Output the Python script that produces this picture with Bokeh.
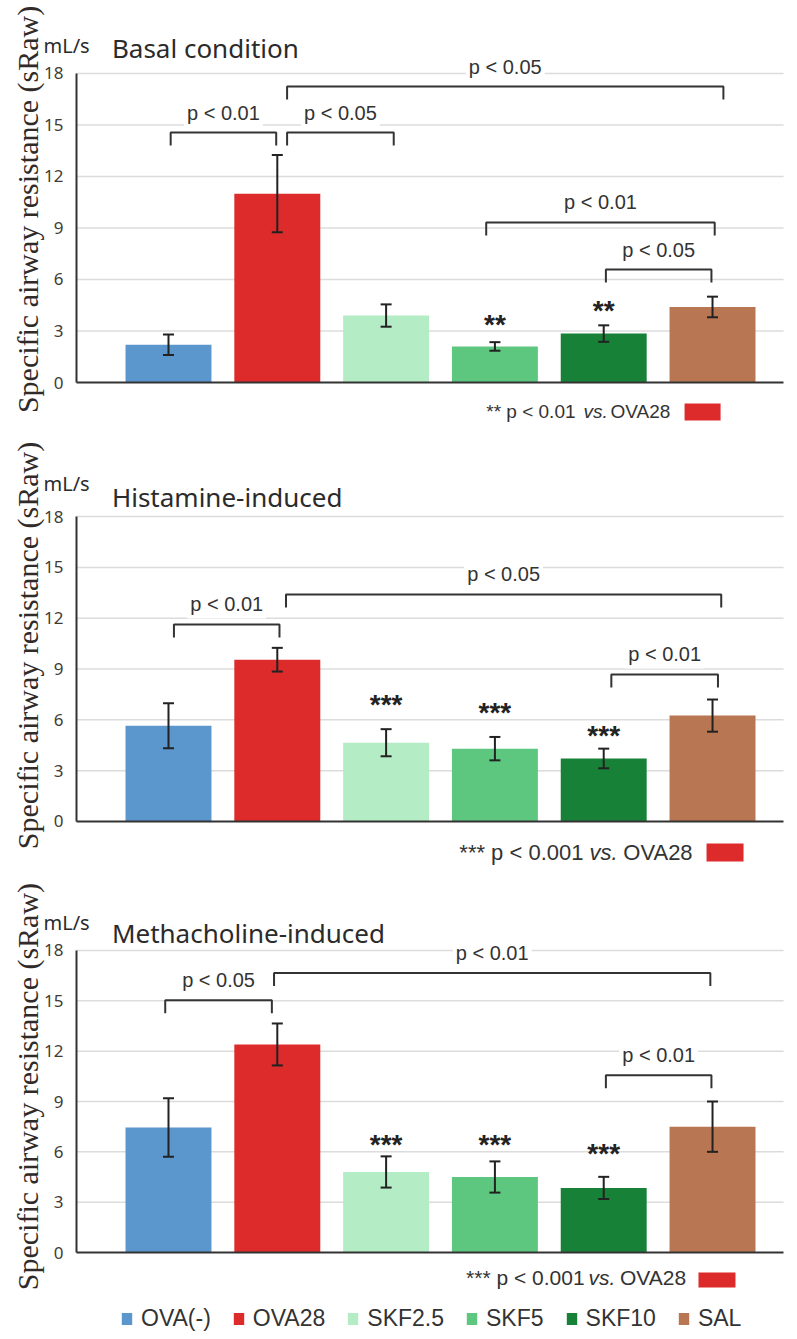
import math
from bokeh.plotting import figure
from bokeh.models import (Range1d, FixedTicker, Label, Whisker, TeeHead,
                          ColumnDataSource, Legend, LegendItem)
from bokeh.layouts import column
from bokeh.embed import file_html
from bokeh.resources import INLINE

# ---------------- data ----------------
groups = ["OVA(-)", "OVA28", "SKF2.5", "SKF5", "SKF10", "SAL"]
bar_colors = ["#5b96cc", "#dd2a2a", "#b4ecc6", "#5ec77f", "#178237", "#b87752"]
y_ticks = [0, 3, 6, 9, 12, 15, 18]

basal_mean = [2.2, 11.0, 3.9, 2.1, 2.85, 4.4]
basal_sem = [0.6, 2.25, 0.65, 0.25, 0.48, 0.6]

hist_mean = [5.65, 9.55, 4.65, 4.3, 3.72, 6.25]
hist_sem = [1.33, 0.7, 0.8, 0.69, 0.58, 0.95]

metha_mean = [7.45, 12.4, 4.8, 4.5, 3.85, 7.5]
metha_sem = [1.75, 1.25, 0.93, 0.93, 0.66, 1.5]

titles = ["Basal condition", "Histamine-induced", "Methacholine-induced"]
unit_text = "mL/s"
y_label = "Specific airway resistance (sRaw)"

# significance annotations: (left x, right x, bracket height, text)
basal_brackets = [(0.02, 0.99, 14.56, "p < 0.01"), (1.09, 2.07, 14.56, "p < 0.05"),
                  (1.09, 5.10, 17.24, "p < 0.05"), (2.92, 5.02, 9.32, "p < 0.01"),
                  (4.02, 4.99, 6.58, "p < 0.05")]
hist_brackets = [(0.05, 1.02, 11.63, "p < 0.01"), (1.08, 5.08, 13.4, "p < 0.05"),
                 (4.07, 5.05, 8.68, "p < 0.01")]
metha_brackets = [(-0.03, 0.95, 15.04, "p < 0.05"), (0.97, 4.98, 16.66, "p < 0.01"),
                  (4.02, 4.99, 10.57, "p < 0.01")]

# stars vs OVA28: (group index, height, text)
basal_stars = [(3, 3.79, "**"), (4, 4.60, "**")]
hist_stars = [(2, 7.32, "***"), (3, 6.85, "***"), (4, 5.49, "***")]
metha_stars = [(2, 6.87, "***"), (3, 6.87, "***"), (4, 6.33, "***")]

notes = ["** p < 0.01", "*** p < 0.001", "*** p < 0.001"]

TXT = "#333333"

panels = [
    dict(mean=basal_mean, sem=basal_sem, brackets=basal_brackets, stars=basal_stars,
         title=titles[0], note=notes[0], y_range=(-3.378, 22.25), height=440,
         unit_y=19.63, title_y=19.51, ylab_y=10.08,
         note_y=-1.69, note_x=(3.741, 3.814, 4.063), note_font="19px",
         box=(4.743, 5.074, -1.22, -2.21), legend=False),
    dict(mean=hist_mean, sem=hist_sem, brackets=hist_brackets, stars=hist_stars,
         title=titles[1], note=notes[1], y_range=(-3.188, 22.49), height=435,
         unit_y=19.95, title_y=19.13, ylab_y=10.39,
         note_y=-1.83, note_x=(3.814, 3.869, 4.180), note_font="22px",
         box=(4.945, 5.285, -1.30, -2.36), legend=False),
    dict(mean=metha_mean, sem=metha_sem, brackets=metha_brackets, stars=metha_stars,
         title=titles[2], note=notes[2], y_range=(-4.887, 22.47), height=459,
         unit_y=19.67, title_y=19.07, ylab_y=9.89,
         note_y=-1.49, note_x=(3.824, 3.86, 4.15), note_font="21px",
         box=(4.871, 5.211, -1.19, -2.09), legend=True),
]

FULL_X = (-1.544, 5.781)     # whole canvas width
AXIS_X = (-0.846, 5.653)     # extent of the plotting area (axes)
W = 797


def make_panel(cfg):
    y0, y1 = cfg["y_range"]
    px = cfg["height"] / (y1 - y0)
    p = figure(width=W, height=cfg["height"], x_range=Range1d(*FULL_X),
               y_range=Range1d(y0, y1), output_backend="svg", toolbar_location=None,
               min_border=0)
    p.outline_line_color = None
    p.background_fill_color = "white"
    p.xgrid.visible = False
    p.ygrid.visible = False

    xa_ = p.xaxis[0]
    xa_.fixed_location = 0
    xa_.bounds = AXIS_X
    xa_.axis_line_color = "#333333"
    xa_.axis_line_width = 2
    xa_.major_tick_line_color = None
    xa_.minor_tick_line_color = None
    xa_.major_label_text_color = None
    xa_.major_label_text_font_size = "0px"

    ax = p.yaxis[0]
    ax.fixed_location = AXIS_X[0]
    ax.ticker = FixedTicker(ticks=y_ticks)
    ax.bounds = (min(y_ticks), max(y_ticks))
    ax.axis_line_color = "#333333"
    ax.axis_line_width = 2
    ax.major_tick_line_color = None
    ax.minor_tick_line_color = None
    ax.major_tick_out = 0
    ax.major_tick_in = 0
    ax.major_label_standoff = 13
    ax.major_label_text_font = "Noto Sans"
    ax.major_label_text_font_size = "17px"
    ax.major_label_text_color = "#433b36"

    # horizontal grid lines at the axis ticks, limited to the plotting area
    gt = [t for t in y_ticks if t > 0]
    p.segment(x0=[AXIS_X[0]] * len(gt), x1=[AXIS_X[1]] * len(gt), y0=gt, y1=gt,
              line_color="#dcdcdc", line_width=1.5, level="underlay")

    xs = list(range(len(groups)))
    src = ColumnDataSource(dict(
        x=xs, group=groups, top=cfg["mean"], color=bar_colors,
        upper=[m + s for m, s in zip(cfg["mean"], cfg["sem"])],
        lower=[m - s for m, s in zip(cfg["mean"], cfg["sem"])]))
    bars = p.vbar(x="x", top="top", bottom=0, width=0.79, source=src,
                  fill_color="color", line_color=None)
    p.add_layout(Whisker(base="x", upper="upper", lower="lower", source=src,
                         level="overlay", line_color="#222222", line_width=2,
                         upper_head=TeeHead(size=11, line_color="#222222", line_width=2),
                         lower_head=TeeHead(size=11, line_color="#222222", line_width=2)))

    drop = 13 / px
    bx, by = [], []
    for xa, xb, yb, lab in cfg["brackets"]:
        bx.append([xa, xa, xb, xb])
        by.append([yb - drop, yb, yb, yb - drop])
    p.multi_line(bx, by, line_color="#333333", line_width=2)
    for xa, xb, yb, lab in cfg["brackets"]:
        p.add_layout(Label(x=(xa + xb) / 2, y=yb, y_offset=20, text=lab,
                           text_align="center", text_baseline="middle",
                           text_font="Liberation Sans", text_font_size="20px",
                           text_color=TXT, background_fill_color="white", padding=3))

    for gi, ys, st in cfg["stars"]:
        p.add_layout(Label(x=gi, y=ys, y_offset=-7, text=st, text_align="center",
                           text_baseline="middle", text_font="Liberation Sans",
                           text_font_style="bold", text_font_size="28px", text_color="#222222"))

    # titles
    p.add_layout(Label(x=-1.149, y=cfg["unit_y"], text=unit_text, text_align="left",
                       text_baseline="alphabetic", text_font="Noto Sans",
                       text_font_size="20px", text_color="#2b2b2b"))
    p.add_layout(Label(x=-0.52, y=cfg["title_y"], text=cfg["title"], text_align="left",
                       text_baseline="alphabetic", text_font="Noto Sans",
                       text_font_size="26px", text_color="#2b2b2b"))
    p.add_layout(Label(x=-1.296, y=cfg["ylab_y"], text=y_label, angle=math.pi / 2,
                       text_align="center", text_baseline="middle",
                       text_font="Liberation Serif", text_font_size="30px",
                       text_color="#302a28"))

    # significance note
    nx = cfg["note_x"]
    fs = cfg["note_font"]
    p.add_layout(Label(x=nx[0], y=cfg["note_y"], text=cfg["note"], text_align="right",
                       text_baseline="middle", text_font="Liberation Sans",
                       text_font_size=fs, text_color=TXT))
    p.add_layout(Label(x=nx[1], y=cfg["note_y"], text="vs.", text_align="left",
                       text_baseline="middle", text_font="Liberation Sans",
                       text_font_style="italic", text_font_size=fs, text_color=TXT))
    p.add_layout(Label(x=nx[2], y=cfg["note_y"], text=groups[1], text_align="left",
                       text_baseline="middle", text_font="Liberation Sans",
                       text_font_size=fs, text_color=TXT))
    b = cfg["box"]
    p.quad(left=[b[0]], right=[b[1]], top=[b[2]], bottom=[b[3]],
           fill_color=bar_colors[1], line_color=None)

    if cfg["legend"]:
        items = [LegendItem(label=g, renderers=[bars], index=i) for i, g in enumerate(groups)]
        leg = Legend(items=items, orientation="horizontal", location=(120, 2),
                     glyph_width=13, glyph_height=15, label_standoff=8, spacing=21,
                     padding=0, margin=0, label_height=24,
                     label_text_font="Liberation Sans", label_text_font_size="23px",
                     label_text_color=TXT, background_fill_alpha=0, border_line_color=None)
        p.add_layout(leg)
    return p


figs = [make_panel(c) for c in panels]
layout = column(*figs, spacing=0)

with open("out.html", "w") as f:
    f.write(file_html(layout, INLINE))
